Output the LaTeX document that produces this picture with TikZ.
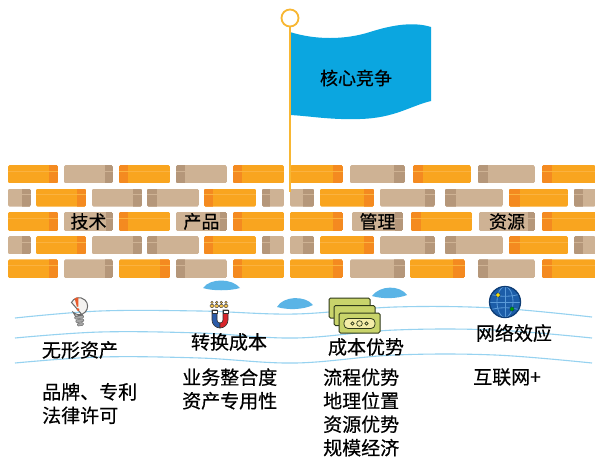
\documentclass[tikz,border=0pt]{standalone}
\usepackage{fontspec}
\newfontfamily\cjk{Noto Sans CJK SC}[FakeBold=0.4]

% wall colours
\definecolor{brickO}{HTML}{F9A51F}
\definecolor{brickOd}{HTML}{F48A20}
\definecolor{brickOs}{HTML}{FBB23F}
\definecolor{brickT}{HTML}{CEB294}
\definecolor{brickTd}{HTML}{B5977A}
\definecolor{brickTs}{HTML}{CEB294}
% flag, water and icons
\definecolor{flagblue}{HTML}{0BA6E0}
\definecolor{poleyellow}{HTML}{F8B733}
\definecolor{waterline}{HTML}{96D2F0}
\definecolor{puddle}{HTML}{5AB4E6}
\definecolor{bulbfill}{HTML}{F4F2F0}
\definecolor{bulbline}{HTML}{6A6A6A}
\definecolor{bulbbase}{HTML}{A6A6A6}
\definecolor{alertred}{HTML}{E95A2B}
\definecolor{magblue}{HTML}{2B5BA8}
\definecolor{magred}{HTML}{D9262C}
\definecolor{peoplefill}{HTML}{F2C14E}
\definecolor{billfill}{HTML}{C9D46B}
\definecolor{billinner}{HTML}{F4EDA8}
\definecolor{billline}{HTML}{2F3A1A}
\definecolor{globefill}{HTML}{1C5DA8}
\definecolor{globeedge}{HTML}{0E3D75}
\definecolor{globegrid}{HTML}{5A9AD8}

% one course of bricks: top y, bottom y, list of x1/x2/kind/dark-from/dark-to
\newcommand\brickcourse[3]{%
  \foreach \xa/\xb/\kd/\da/\db in {#3}{%
    \begin{scope}
      \clip[rounded corners=1.5] (\xa,#1) rectangle (\xb,#2);
      \fill[fill=brick\kd] (\xa,#1) rectangle (\xb,#2);
      \fill[fill=brick\kd d] (\da,#1) rectangle (\db,#2);
      \draw[draw=brick\kd s, line width=0.6] (\xa,{#1+6}) -- (\xb,{#1+6});
    \end{scope}
  }}

\begin{document}
\begin{tikzpicture}[x=1pt,y=-1pt,
  label/.style={font=\cjk\fontsize{19}{23.5}\selectfont, inner sep=0pt, text=black},
  bricklabel/.style={font=\cjk\fontsize{18}{20}\selectfont, inner sep=0pt, text=black},
  water/.style={draw=waterline, line width=1.1pt},
  puddleshape/.style={fill=puddle}]

\useasboundingbox[fill=white] (0,0) rectangle (595,459);

% ---- brick wall ----
\brickcourse{165}{183.3}{8/58/O/49/58, 64/113/T/105/113, 119/170/O/119/128, 176/227/T/176/185, 233/284/O/233/242, 290/343/O/333/343, 350/405/T/394/405, 413/471/O/413/423, 478/535/T/478/488, 542/596/O/542/552}
\brickcourse{188.5}{206.7}{8/31/T/22/31, 36/86/O/77/86, 92/142/T/133/142, 147/199/T/147/157, 204/256/O/204/213, 262/284/T/262/270, 290/314/T/303/314, 320/374/O/364/374, 380/435/T/425/435, 445/503/T/445/456, 509/568/O/509/520, 574/596/T/574/583}
\brickcourse{211.8}{231}{8/58/O/49/58, 64/113/T/106/113, 119/170/O/119/128, 176/227/T/220/227, 233/284/O/233/242, 290/343/O/333/343, 352/403/T/395/403, 411/472/O/411/421, 479/535/T/528/535, 542/596/O/542/552}
\brickcourse{236}{254.3}{8/31/T/22/31, 36/86/O/77/86, 92/142/T/133/142, 147/199/T/147/157, 204/256/O/204/213, 262/284/T/262/270, 290/314/T/303/314, 320/374/O/364/374, 380/435/T/425/435, 445/503/T/445/456, 509/568/O/509/520, 574/596/T/574/583}
\brickcourse{259.3}{278}{8/58/O/49/58, 64/113/T/105/113, 119/170/O/160/170, 176/227/T/176/185, 233/284/O/233/242, 290/343/O/333/343, 350/405/T/394/405, 410/465/O/453/465, 478/535/T/478/488, 542/596/O/542/552}

\node[bricklabel] (jishu)  at (88.5,221.5) {技术};
\node[bricklabel] (chanpin) at (201.5,221.5) {产品};
\node[bricklabel] (guanli) at (377.5,221.5) {管理};
\node[bricklabel] (ziyuan) at (507,221.5) {资源};

% ---- flag ----
\fill[flagblue] (290,32) .. controls (315,40) and (345,40) .. (370,32)
  .. controls (395,24) and (415,22) .. (431,27) -- (431,101)
  .. controls (410,106) and (395,118) .. (360,119)
  .. controls (330,120) and (310,116) .. (290,115) -- cycle;
\draw[poleyellow, line width=2pt] (290,26.5) -- (290,192);
\draw[poleyellow, line width=1.8pt, fill=white] (290,18) circle (8.5);
\node[label, font=\cjk\fontsize{18}{20}\selectfont] (core) at (356,78) {核心竞争};

% ---- puddles ----
\fill[puddleshape] (203,288) .. controls (210,278) and (232,278) .. (240,288)
  .. controls (230,291) and (212,291) .. (203,288) -- cycle;
\fill[puddleshape] (277,307) .. controls (283,296) and (305,295) .. (313,305)
  .. controls (303,310) and (287,310) .. (277,307) -- cycle;
\fill[puddleshape] (372,296) .. controls (380,285) and (400,285) .. (407,295)
  .. controls (397,299) and (382,299) .. (372,296) -- cycle;

% ---- water lines ----
\draw[water] plot[smooth, tension=0.6] coordinates {(15,318) (100,311) (200,311) (295,314) (395,307) (495,308) (592,317)};
\draw[water] plot[smooth, tension=0.6] coordinates {(15,338) (100,332) (200,333) (295,338) (395,330) (495,330) (592,338)};
\draw[water] plot[smooth, tension=0.6] coordinates {(15,363) (100,357) (200,358) (295,363) (395,355) (495,355) (592,363)};

% ---- light bulb ----
\begin{scope}[rotate around={10:(77,305)}]
  \filldraw[fill=bulbbase, draw=bulbline, line width=0.5, rounded corners=1] (72.5,316) rectangle (81.5,318.8);
  \filldraw[fill=bulbbase, draw=bulbline, line width=0.5, rounded corners=1] (73,319.6) rectangle (81,322.4);
  \filldraw[fill=bulbbase, draw=bulbline, line width=0.5, rounded corners=1] (74,323.2) rectangle (80,326);
  \filldraw[fill=bulbfill, draw=bulbline, line width=1]
    (72,311.5) arc[start angle=144, end angle=-144, radius=8.5] -- (80.5,315.8) -- (73.5,315.8) -- cycle;
  \fill[alertred] (75.8,297.8) -- (79.8,297.8) -- (78,306.8) -- (76.6,306.8) -- cycle;
  \fill[alertred] (77.2,309.6) circle (1.5);
\end{scope}

% ---- magnet with people ----
\foreach \cx in {212,216.7,221.3,226}{
  \filldraw[fill=peoplefill, draw=black!75, line width=0.4] (\cx,302.4) circle (1.3);
  \filldraw[fill=peoplefill, draw=black!75, line width=0.4, rounded corners=1.2] (\cx-2,304.3) rectangle (\cx+2,307.6);
}
\filldraw[fill=magblue, draw=black!80, line width=0.6]
  (212,310) -- (212,320) arc[start angle=180, end angle=90, radius=8] -- (220,323)
  arc[start angle=90, end angle=180, radius=3] -- (217,310) -- cycle;
\filldraw[fill=magred, draw=black!80, line width=0.6]
  (228,310) -- (228,320) arc[start angle=0, end angle=90, radius=8] -- (220,323)
  arc[start angle=90, end angle=0, radius=3] -- (223,310) -- cycle;
\filldraw[fill=white, draw=black!80, line width=0.6] (212,310) rectangle (217,313.2);
\filldraw[fill=white, draw=black!80, line width=0.6] (223,310) rectangle (228,313.2);

% ---- stack of bank notes ----
\filldraw[fill=billfill, draw=billline, line width=1, rounded corners=1.5] (329,298) rectangle (370,318);
\filldraw[fill=billfill, draw=billline, line width=1, rounded corners=1.5] (334,305.5) rectangle (375,325.5);
\filldraw[fill=billfill, draw=billline, line width=1, rounded corners=1.5] (339,313) rectangle (380,333);
\filldraw[fill=billinner, draw=billline, line width=0.8, rounded corners=4] (344,318.5) rectangle (375,328.5);
\draw[billline, line width=0.7] (352.5,323.5) circle (1.6) (359.5,323.5) circle (2.8) (366.5,323.5) circle (1.6);

% ---- globe ----
\fill[globefill] (505,302) circle (15.5);
\begin{scope}
  \clip (505,302) circle (15.5);
  \draw[globegrid, line width=0.8] (505,286.5) -- (505,317.5);
  \draw[globegrid, line width=0.8] (505,302) ellipse [x radius=8, y radius=15.5];
  \draw[globegrid, line width=0.8] (489.5,302) -- (520.5,302);
  \draw[globegrid, line width=0.8] (490,294) .. controls (498,297) and (512,297) .. (520,294);
  \draw[globegrid, line width=0.8] (490,310) .. controls (498,307) and (512,307) .. (520,310);
\end{scope}
\draw[globeedge, line width=1.3] (505,302) circle (15.5);
\filldraw[fill=yellow!80!orange, draw=globeedge, line width=0.5] (498,295) circle (2.2);
\filldraw[fill=green!60!black, draw=globeedge, line width=0.5] (512,309) circle (2.2);

% ---- captions ----
\node[label] (wuxing)  at (80,350)  {无形资产};
\node[label] (zhuanhuan) at (229,342) {转换成本};
\node[label] (chengben) at (366,347) {成本优势};
\node[label] (wangluo) at (514,333) {网络效应};

\node[label, align=left, anchor=west] (list1) at (42,403.5) {品牌、专利\\法律许可};
\node[label, align=left, anchor=west] (list2) at (182,389) {业务整合度\\资产专用性};
\node[label, align=left, anchor=west] (list3) at (323,412.5) {流程优势\\地理位置\\资源优势\\规模经济};
\node[label, align=left, anchor=west] (list4) at (473,377) {互联网+};

\end{tikzpicture}
\end{document}
